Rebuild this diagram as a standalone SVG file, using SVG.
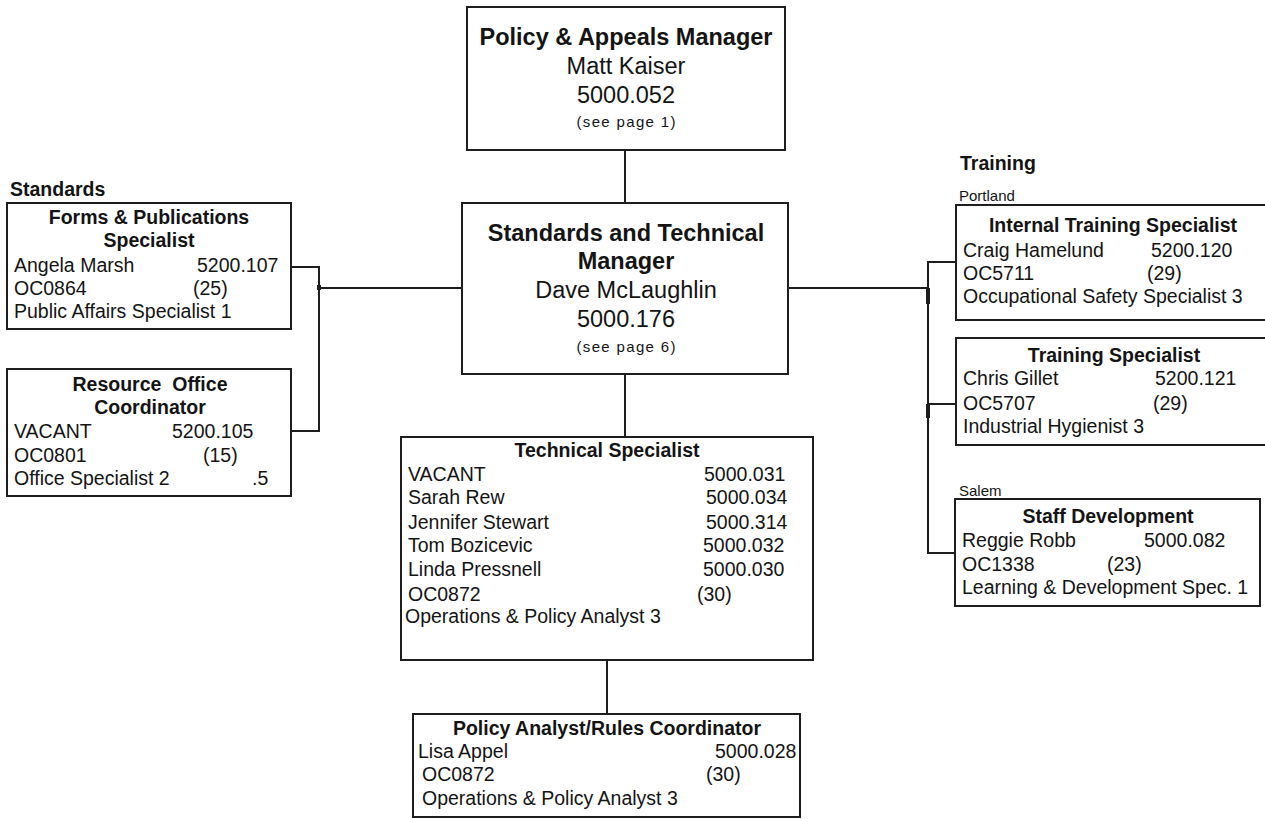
<svg xmlns="http://www.w3.org/2000/svg" width="1265" height="819" viewBox="0 0 1265 819">
  <style>
    text { font-family: "Liberation Sans", Arial, sans-serif; fill: #141414; }
    .box { fill: #ffffff; stroke: #1e1e1e; stroke-width: 2; }
    .link { fill: none; stroke: #1e1e1e; stroke-width: 2; }
    .tick { fill: #1e1e1e; }
    .big { font-size: 23.5px; }
    .bigb { font-size: 23.5px; font-weight: bold; }
    .t { font-size: 19.5px; }
    .tb { font-size: 19.5px; font-weight: bold; }
    .note { font-size: 15px; }
    .c { text-anchor: middle; }
  </style>
  <rect width="1265" height="819" fill="#ffffff"/>

  <!-- connectors -->
  <g id="connectors">
    <path class="link" d="M625 150 V203"/>
    <path class="link" d="M462 288 H319"/>
    <path class="link" d="M291 267 H319 V431 H291"/>
    <path class="link" d="M788 288 H928"/>
    <path class="link" d="M956 262 H928 V553 H956"/>
    <path class="link" d="M928 404 H956"/>
    <path class="link" d="M625 374 V437"/>
    <path class="link" d="M607 660 V714"/>
    <rect class="tick" x="317" y="285" width="4" height="5"/>
    <rect class="tick" x="926" y="288" width="4" height="16"/>
    <rect class="tick" x="926" y="404" width="4" height="14"/>
  </g>

  <!-- section labels -->
  <g id="labels">
    <text class="tb" x="10" y="196">Standards</text>
    <text class="tb" x="960" y="170">Training</text>
    <text class="note" x="959" y="201">Portland</text>
    <text class="note" x="959" y="496">Salem</text>
  </g>

  <g id="policy-appeals-manager">
    <rect class="box" x="467" y="7" width="318" height="143"/>
    <text class="bigb c" x="626" y="45">Policy &amp; Appeals Manager</text>
    <text class="big c" x="626" y="74">Matt Kaiser</text>
    <text class="big c" x="626" y="103">5000.052</text>
    <text class="note c" x="626" y="127" textLength="99" lengthAdjust="spacing">(see page 1)</text>
  </g>

  <g id="standards-technical-manager">
    <rect class="box" x="462" y="203" width="326" height="171"/>
    <text class="bigb c" x="626" y="241">Standards and Technical</text>
    <text class="bigb c" x="626" y="269">Manager</text>
    <text class="big c" x="626" y="298">Dave McLaughlin</text>
    <text class="big c" x="626" y="327">5000.176</text>
    <text class="note c" x="626" y="352" textLength="99" lengthAdjust="spacing">(see page 6)</text>
  </g>

  <g id="forms-publications-specialist">
    <rect class="box" x="7" y="203" width="284" height="126"/>
    <text class="tb c" x="149" y="224">Forms &amp; Publications</text>
    <text class="tb c" x="149" y="247">Specialist</text>
    <text class="t" x="14" y="272">Angela Marsh</text>
    <text class="t" x="197" y="272">5200.107</text>
    <text class="t" x="14" y="295">OC0864</text>
    <text class="t" x="193" y="295">(25)</text>
    <text class="t" x="14" y="318">Public Affairs Specialist 1</text>
  </g>

  <g id="resource-office-coordinator">
    <rect class="box" x="7" y="369" width="284" height="127"/>
    <text class="tb c" x="150" y="391" xml:space="preserve">Resource  Office</text>
    <text class="tb c" x="150" y="414">Coordinator</text>
    <text class="t" x="14" y="438">VACANT</text>
    <text class="t" x="172" y="438">5200.105</text>
    <text class="t" x="14" y="462">OC0801</text>
    <text class="t" x="203" y="462">(15)</text>
    <text class="t" x="14" y="485">Office Specialist 2</text>
    <text class="t" x="252" y="485">.5</text>
  </g>

  <g id="internal-training-specialist">
    <rect class="box" x="956" y="205" width="318" height="115"/>
    <text class="tb c" x="1113" y="232">Internal Training Specialist</text>
    <text class="t" x="963" y="257">Craig Hamelund</text>
    <text class="t" x="1151" y="257">5200.120</text>
    <text class="t" x="963" y="280">OC5711</text>
    <text class="t" x="1147" y="280">(29)</text>
    <text class="t" x="963" y="303">Occupational Safety Specialist 3</text>
  </g>

  <g id="training-specialist">
    <rect class="box" x="956" y="338" width="318" height="107"/>
    <text class="tb c" x="1114" y="362">Training Specialist</text>
    <text class="t" x="963" y="385">Chris Gillet</text>
    <text class="t" x="1155" y="385">5200.121</text>
    <text class="t" x="963" y="410">OC5707</text>
    <text class="t" x="1153" y="410">(29)</text>
    <text class="t" x="963" y="433">Industrial Hygienist 3</text>
  </g>

  <g id="staff-development">
    <rect class="box" x="955" y="499" width="305" height="107"/>
    <text class="tb c" x="1108" y="523">Staff Development</text>
    <text class="t" x="962" y="547">Reggie Robb</text>
    <text class="t" x="1144" y="547">5000.082</text>
    <text class="t" x="962" y="571">OC1338</text>
    <text class="t" x="1107" y="571">(23)</text>
    <text class="t" x="962" y="594">Learning &amp; Development Spec. 1</text>
  </g>

  <g id="technical-specialist">
    <rect class="box" x="401" y="437" width="412" height="223"/>
    <text class="tb c" x="607" y="457">Technical Specialist</text>
    <text class="t" x="408" y="481">VACANT</text>
    <text class="t" x="704" y="481">5000.031</text>
    <text class="t" x="408" y="504">Sarah Rew</text>
    <text class="t" x="706" y="504">5000.034</text>
    <text class="t" x="408" y="529">Jennifer Stewart</text>
    <text class="t" x="706" y="529">5000.314</text>
    <text class="t" x="408" y="552">Tom Bozicevic</text>
    <text class="t" x="703" y="552">5000.032</text>
    <text class="t" x="408" y="576">Linda Pressnell</text>
    <text class="t" x="703" y="576">5000.030</text>
    <text class="t" x="408" y="601">OC0872</text>
    <text class="t" x="697" y="601">(30)</text>
    <text class="t" x="405" y="623">Operations &amp; Policy Analyst 3</text>
  </g>

  <g id="policy-analyst-rules-coordinator">
    <rect class="box" x="413" y="714" width="387" height="103"/>
    <text class="tb c" x="607" y="735">Policy Analyst/Rules Coordinator</text>
    <text class="t" x="418" y="758">Lisa Appel</text>
    <text class="t" x="715" y="758">5000.028</text>
    <text class="t" x="422" y="781">OC0872</text>
    <text class="t" x="706" y="781">(30)</text>
    <text class="t" x="422" y="805">Operations &amp; Policy Analyst 3</text>
  </g>
</svg>
